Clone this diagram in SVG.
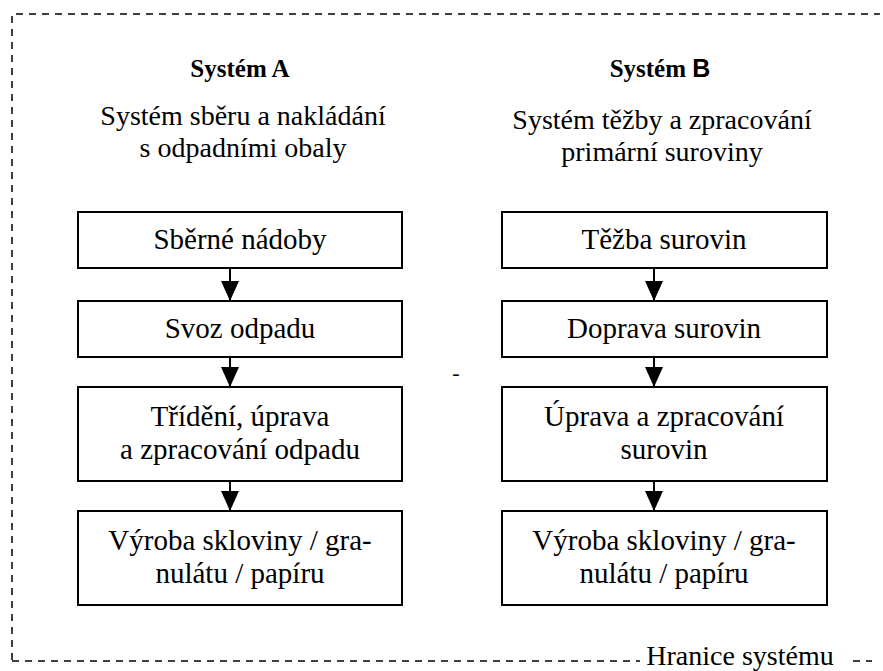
<svg xmlns="http://www.w3.org/2000/svg" width="883" height="671" viewBox="0 0 883 671">
<defs>
<style>
text{font-family:"Liberation Serif","DejaVu Serif",serif;fill:#000;text-anchor:middle}
.bx{font-size:29px}
.sub{font-size:28px}
.ttl{font-size:25px;font-weight:bold}
.box{fill:#fff;stroke:#000;stroke-width:2}
.dash{fill:none;stroke:#000;stroke-width:1.5;stroke-dasharray:7 6}
.con{stroke:#000;stroke-width:2;fill:none}
</style>
<marker id="ah" markerWidth="20" markerHeight="18" refX="20" refY="9" orient="auto" markerUnits="userSpaceOnUse" viewBox="0 0 20 18">
<path d="M0,0 L20,9 L0,18 Z" fill="#000"/>
</marker>
</defs>
<rect width="883" height="671" fill="#fff"/>
<g id="boundary">
<path class="dash" d="M12,660 L12,14 L880,14"/>
<path class="dash" d="M12,661 L640,661"/>
<path class="dash" d="M853,661 L872,661"/>
<text x="740" y="665" style="font-size:28px">Hranice systému</text>
</g>
<g id="titleA">
<text class="ttl" x="240" y="77">Systém A</text>
<text class="sub" x="243" y="125">Systém sběru a nakládání</text>
<text class="sub" x="243" y="157">s odpadními obaly</text>
</g>
<g id="titleB">
<text class="ttl" x="660" y="77">Systém <tspan style="font-family:'Liberation Sans',sans-serif">B</tspan></text>
<text class="sub" x="662" y="129">Systém těžby a zpracování</text>
<text class="sub" x="662" y="161">primární suroviny</text>
</g>
<text x="456" y="380" style="font-size:22px">-</text>
<g id="connectors">
<line class="con" x1="230" y1="268" x2="230" y2="301" marker-end="url(#ah)"/>
<line class="con" x1="230" y1="357" x2="230" y2="387" marker-end="url(#ah)"/>
<line class="con" x1="230" y1="481" x2="230" y2="511" marker-end="url(#ah)"/>
<line class="con" x1="654" y1="268" x2="654" y2="301" marker-end="url(#ah)"/>
<line class="con" x1="654" y1="357" x2="654" y2="387" marker-end="url(#ah)"/>
<line class="con" x1="654" y1="481" x2="654" y2="511" marker-end="url(#ah)"/>
</g>
<g id="a1"><rect class="box" x="78" y="212" width="324" height="56"/><text class="bx" x="240" y="249">Sběrné nádoby</text></g>
<g id="a2"><rect class="box" x="78" y="301" width="324" height="56"/><text class="bx" x="240" y="338">Svoz odpadu</text></g>
<g id="a3"><rect class="box" x="78" y="387" width="324" height="94"/><text class="bx" x="240" y="426">Třídění, úprava</text><text class="bx" x="240" y="459">a zpracování odpadu</text></g>
<g id="a4"><rect class="box" x="78" y="511" width="324" height="94"/><text class="bx" x="240" y="550">Výroba skloviny / gra-</text><text class="bx" x="240" y="583">nulátu / papíru</text></g>
<g id="b1"><rect class="box" x="502" y="212" width="325" height="56"/><text class="bx" x="664" y="249">Těžba surovin</text></g>
<g id="b2"><rect class="box" x="502" y="301" width="325" height="56"/><text class="bx" x="664" y="338">Doprava surovin</text></g>
<g id="b3"><rect class="box" x="502" y="387" width="325" height="94"/><text class="bx" x="664" y="426">Úprava a zpracování</text><text class="bx" x="664" y="459">surovin</text></g>
<g id="b4"><rect class="box" x="502" y="511" width="325" height="94"/><text class="bx" x="664" y="550">Výroba skloviny / gra-</text><text class="bx" x="664" y="583">nulátu / papíru</text></g>
</svg>
